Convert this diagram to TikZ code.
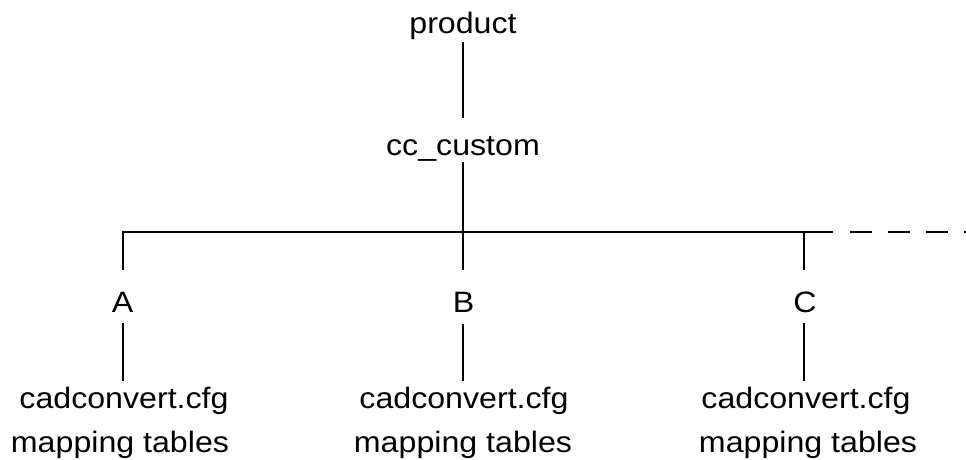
\documentclass[tikz,border=0pt]{standalone}
\usepackage{graphicx}
\usepackage{fontspec}
\setmainfont{Liberation Sans}
\newcommand{\sx}[1]{\scalebox{1.09}[1]{#1}}
\begin{document}
\begin{tikzpicture}[x=1pt,y=-1pt,
  lbl/.style={inner sep=0pt,anchor=base,text height=23pt,text depth=7pt,font=\fontsize{29.5}{36}\selectfont},
  conn/.style={line width=2pt,black},
  dashconn/.style={line width=2pt,black,dash pattern=on 22pt off 16pt}]
\useasboundingbox (0,0) rectangle (966,459);
\node[lbl] (product) at (463,33) {\sx{product}};
\node[lbl] (cc) at (463,155) {\sx{cc\_custom}};
\node[lbl] (A) at (122.5,312) {\sx{A}};
\node[lbl] (B) at (463.5,312) {\sx{B}};
\node[lbl] (C) at (805,312) {\sx{C}};
\node[lbl] (cfgA) at (124,408) {\sx{cadconvert.cfg}};
\node[lbl] (mtA) at (120,452) {\sx{mapping tables}};
\node[lbl] (cfgB) at (464,408) {\sx{cadconvert.cfg}};
\node[lbl] (mtB) at (463,452) {\sx{mapping tables}};
\node[lbl] (cfgC) at (806,408) {\sx{cadconvert.cfg}};
\node[lbl] (mtC) at (808,452) {\sx{mapping tables}};
\coordinate (jA) at (122.5,232);
\coordinate (jB) at (463,232);
\coordinate (jC) at (804,232);
\coordinate (busend) at (833,232);
\coordinate (dashstart) at (850,232);
\coordinate (dashend) at (968,232);
\draw[conn,shorten <=2pt,shorten >=14pt] (product.south) -- (cc.north);
\draw[conn] (cc.south) -- (jB);
\draw[conn,shorten <=19pt,line join=miter] (A.north -| jA) -- (jA) -- (busend);
\draw[conn,shorten <=19pt] (B.north -| jB) -- (jB);
\draw[conn,shorten <=19pt] (C.north -| jC) -- (jC);
\draw[dashconn] (dashstart) -- (dashend);
\draw[conn,shorten <=4pt,shorten >=4pt] (A.south -| jA) -- (cfgA.north -| jA);
\draw[conn,shorten <=5pt,shorten >=4pt] (B.south -| jB) -- (cfgB.north -| jB);
\draw[conn,shorten <=4pt,shorten >=4pt] (C.south -| jC) -- (cfgC.north -| jC);
\end{tikzpicture}
\end{document}
